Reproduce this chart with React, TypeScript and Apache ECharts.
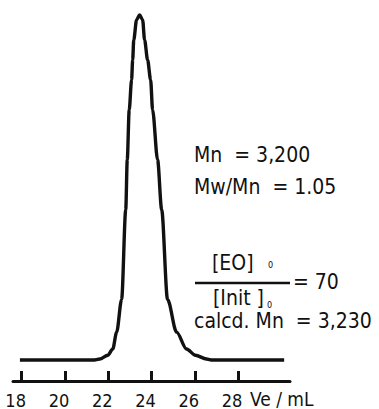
import React, { useEffect, useRef } from "react";
import * as echarts from "echarts";

const volume = [17.92, 21.3, 21.61, 21.98, 22.21, 22.39, 22.62, 22.81, 22.88, 22.97, 23.08, 23.13, 23.18, 23.31, 23.45, 23.59, 23.68, 23.82, 23.96, 24.05, 24.28, 24.47, 24.74, 25.16, 25.62, 26.03, 26.54, 26.82, 30.13];
const signal = [0, 0, 0.3, 1.4, 3.2, 8.1, 17.6, 43.6, 58.1, 72.5, 81.2, 87.0, 92.8, 98.6, 100, 98.6, 92.8, 87.0, 81.2, 72.5, 58.1, 43.6, 17.6, 8.1, 3.2, 1.4, 0.3, 0, 0];
const tickValues = [18, 20, 22, 24, 26, 28];
const axisName = "Ve / mL";
const annotations = ["Mn  = 3,200", "Mw/Mn  = 1.05", "[EO]", "[Init ]", "= 70", "calcd. Mn  = 3,230"];

const FONT = "'DejaVu Sans Condensed', 'DejaVu Sans', sans-serif";
const INK = "#111";

export default function App() {
  const ref = useRef<HTMLDivElement>(null);
  useEffect(() => {
    if (!ref.current) return;
    const chart = echarts.init(ref.current, null, { renderer: "svg" });
    const txt = (text: string, x: number, y: number, size = 21) => ({
      type: "text",
      x,
      y,
      style: { text, fill: INK, font: `${size}px ${FONT}`, textVerticalAlign: "middle" },
    });
    chart.setOption({
      animation: false,
      backgroundColor: "#fff",
      grid: { left: 13, right: 89, top: 5, bottom: 27 },
      xAxis: {
        type: "value",
        min: 17.6,
        max: 30.4,
        splitLine: { show: false },
        axisLine: { show: true, onZero: false, lineStyle: { color: INK, width: 3 } },
        axisTick: { show: true, inside: true, length: 10, customValues: tickValues, lineStyle: { color: INK, width: 3 } },
        axisLabel: {
          show: true,
          customValues: tickValues,
          color: INK,
          fontSize: 18,
          fontFamily: FONT,
          margin: 10,
          padding: [0, 12, 0, 0],
        },
      },
      yAxis: { type: "value", min: -6.07, max: 102.9, show: false },
      series: [
        {
          type: "line",
          data: volume.map((v, i) => [v, signal[i]]),
          showSymbol: false,
          smooth: 0.3,
          smoothMonotone: "x",
          lineStyle: { color: INK, width: 3.4 },
        },
      ],
      graphic: [
        txt(annotations[0], 194, 155),
        txt(annotations[1], 194, 187),
        txt(annotations[2], 212, 263),
        txt("0", 268, 265, 9),
        { type: "line", shape: { x1: 195, y1: 283, x2: 290, y2: 283 }, style: { stroke: INK, lineWidth: 2.5 } },
        txt(annotations[4], 293, 282),
        txt(annotations[3], 213, 298),
        txt("0", 267, 305, 9),
        txt(annotations[5], 194, 321),
        txt(axisName, 250, 399, 19),
      ],
    });
    return () => chart.dispose();
  }, []);
  return <div ref={ref} style={{ position: "fixed", left: 0, top: 0, width: 379, height: 409 }} />;
}
